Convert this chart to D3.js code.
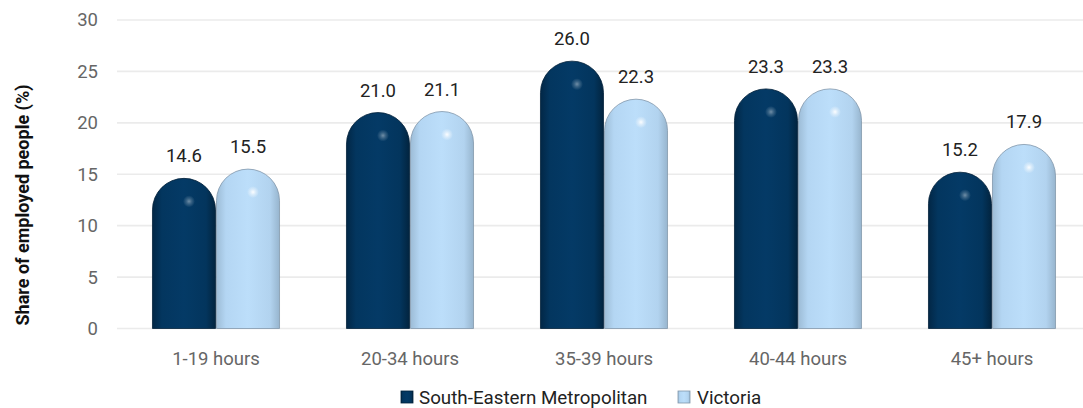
<!DOCTYPE html>
<html><head><meta charset="utf-8">
<script src="https://cdn.jsdelivr.net/npm/d3@7"></script>
<style>body{margin:0;background:#fff}svg{display:block;font-family:Roboto,sans-serif}</style>
</head><body><svg id="c" width="1083" height="408"></svg>
<script>
const categories = ["1-19 hours","20-34 hours","35-39 hours","40-44 hours","45+ hours"];
const seriesNames = ["South-Eastern Metropolitan","Victoria"];
const semValues = [14.6,21.0,26.0,23.3,15.2];
const vicValues = [15.5,21.1,22.3,23.3,17.9];
const yTicks = [0,5,10,15,20,25,30];

const svg = d3.select("#c");
const defs = svg.append("defs");
const colors = [
  {id:"g0", stops:["#022746","#03365f","#043a66","#03355d","#02243f"], stroke:"#02213a"},
  {id:"g1", stops:["#9dbcd6","#b4d6f3","#bcdefa","#b2d3ef","#97b5ce"], stroke:"#8197ab"}
];
colors.forEach(c=>{
  const g = defs.append("linearGradient").attr("id",c.id).attr("x1","0").attr("x2","1").attr("y1","0").attr("y2","0");
  const offs=[0,0.15,0.5,0.85,1];
  c.stops.forEach((s,i)=>g.append("stop").attr("offset",offs[i]).attr("stop-color",s));
});
const rg = defs.append("radialGradient").attr("id","hl");
rg.append("stop").attr("offset",0).attr("stop-color","#fff").attr("stop-opacity",0.95);
rg.append("stop").attr("offset",0.45).attr("stop-color","#fff").attr("stop-opacity",0.45);
rg.append("stop").attr("offset",1).attr("stop-color","#fff").attr("stop-opacity",0);

const y = d3.scaleLinear().domain([0,30]).range([328.5,20]);
const x0 = d3.scaleBand().domain(categories).range([119,1089]).paddingInner(0.34).paddingOuter(0.17);
const x1 = d3.scaleBand().domain([0,1]).range([0,x0.bandwidth()]);

// gridlines
svg.append("g").selectAll("line").data(yTicks).join("line")
  .attr("x1",117).attr("x2",1083).attr("y1",d=>y(d)).attr("y2",d=>y(d))
  .attr("stroke","#ebebeb").attr("stroke-width",1.6);

// y axis labels
const yAxis = d3.axisLeft(y).tickValues(yTicks).tickSize(0).tickPadding(0);
const ya = svg.append("g").attr("transform","translate(98,0)").call(yAxis);
ya.select(".domain").remove();
ya.selectAll("text").attr("font-size",18.5).attr("fill","#666").attr("font-family","Roboto");

// x axis labels
const xAxis = d3.axisBottom(x0).tickSize(0).tickPadding(0);
const xa = svg.append("g").attr("transform","translate(0,352)").call(xAxis);
xa.select(".domain").remove();
xa.selectAll("text").attr("font-size",18.5).attr("fill","#666").attr("font-family","Roboto").attr("dy","0.71em");

// axis title
svg.append("text").attr("transform","translate(29,205) rotate(-90)").attr("text-anchor","middle")
  .attr("font-size",18).attr("font-weight","bold").attr("fill","#111").text("Share of employed people (%)");

function pill(x, w, v){
  const r = w/2, top = y(v), base = y(0);
  return `M${x},${base}V${top+r}A${r},${r} 0 0 1 ${x+w},${top+r}V${base}Z`;
}
const data = categories.map((c,i)=>({c, vals:[semValues[i],vicValues[i]]}));
const groups = svg.append("g").selectAll("g").data(data).join("g")
  .attr("transform",d=>`translate(${x0(d.c)},0)`);
groups.selectAll("path").data(d=>d.vals.map((v,k)=>({v,k}))).join("path")
  .attr("d",d=>pill(x1(d.k)+0.5,x1.bandwidth()-1,d.v))
  .attr("fill",d=>`url(#g${d.k})`).attr("stroke",d=>colors[d.k].stroke).attr("stroke-width",0.8);
groups.selectAll("ellipse").data(d=>d.vals.map((v,k)=>({v,k}))).join("ellipse")
  .attr("cx",d=>x1(d.k)+x1.bandwidth()/2+5).attr("cy",d=>y(d.v)+23)
  .attr("rx",6).attr("ry",6).attr("fill","url(#hl)").attr("opacity",d=>d.k===0?0.45:1);
groups.selectAll("text").data(d=>d.vals.map((v,k)=>({v,k}))).join("text")
  .attr("x",d=>x1(d.k)+x1.bandwidth()/2).attr("y",d=>y(d.v)-16)
  .attr("text-anchor","middle").attr("font-size",18.5).attr("fill","#222")
  .text(d=>d.v.toFixed(1));

// legend
const leg = [{x:401,tx:419},{x:678,tx:697}];
seriesNames.forEach((n,k)=>{
  svg.append("rect").attr("x",leg[k].x).attr("y",391).attr("width",12).attr("height",12)
    .attr("fill",`url(#g${k})`).attr("stroke",colors[k].stroke).attr("stroke-width",0.8);
  svg.append("text").attr("x",leg[k].tx).attr("y",397).attr("dy","0.35em").attr("font-size",18.8)
    .attr("fill","#222").text(n);
});
</script></body></html>
